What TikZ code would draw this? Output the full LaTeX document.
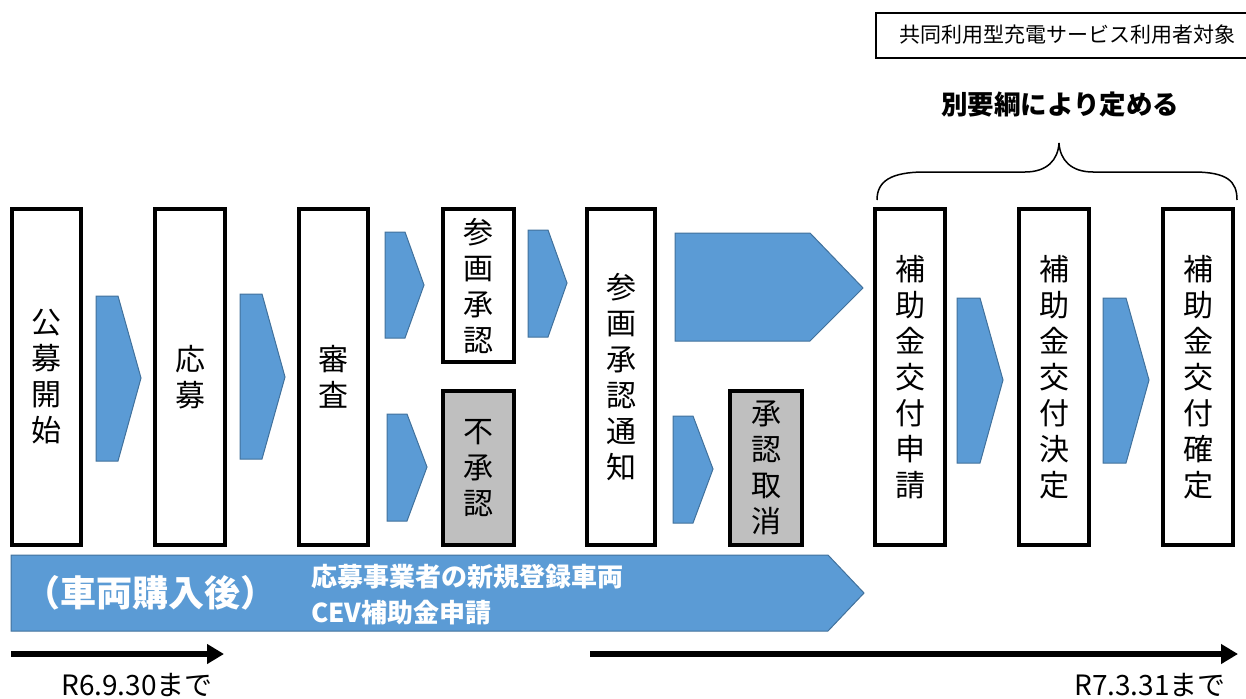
\documentclass[tikz,border=0pt]{standalone}
\usepackage{fontspec}
\setmainfont{Noto Sans CJK JP}
\usetikzlibrary{arrows.meta}
\definecolor{chevblue}{HTML}{5B9BD5}
\definecolor{chevedge}{HTML}{41719C}
\definecolor{boxgray}{HTML}{BFBFBF}
\tikzset{
  stepbox/.style={draw=black, line width=4pt, fill=white, inner sep=0pt, align=center,
    font=\fontsize{30}{36}\selectfont},
  graybox/.style={stepbox, fill=boxgray},
  chev/.style={fill=chevblue, draw=chevedge, line width=1pt},
  timearrow/.style={line width=6pt, -{Triangle[length=17pt,width=19pt]}},
  datelabel/.style={font=\fontsize{28}{32}\selectfont, inner sep=0pt},
}
\begin{document}
\begin{tikzpicture}[x=1pt,y=-1pt]
\useasboundingbox (0,0) rectangle (1246,698);
% top-right label box (open at the right page edge)
\draw[line width=1.5pt] (1247,13) -- (876,13) -- (876,58) -- (1247,58);
\node[inner sep=0pt, font=\fontsize{21}{24}\selectfont] (tgt) at (1067,35) {共同利用型充電サービス利用者対象};
\node[inner sep=0pt, font=\fontsize{26.5}{30}\selectfont\bfseries] (betsu) at (1060,105) {別要綱により定める};
% brace
\draw[line width=1.5pt] (877,200) .. controls (877,181) and (891,172) .. (925,172) -- (1025,172)
  .. controls (1047,172) and (1058,160) .. (1059,143)
  .. controls (1060,160) and (1071,172) .. (1093,172) -- (1193,172)
  .. controls (1227,172) and (1237,181) .. (1237,200);
% step boxes
\node[stepbox, minimum width=69pt, minimum height=336pt] (b1) at (46.5,377) {公\\募\\開\\始};
\node[stepbox, minimum width=70pt, minimum height=336pt] (b2) at (190,377) {応\\募};
\node[stepbox, minimum width=69pt, minimum height=336pt] (b3) at (333.5,377) {審\\査};
\node[stepbox, minimum width=71pt, minimum height=153pt] (b4) at (478.5,285.5) {参\\画\\承\\認};
\node[graybox, minimum width=71pt, minimum height=154pt] (b5) at (478.5,468) {不\\承\\認};
\node[stepbox, minimum width=68pt, minimum height=336pt] (b6) at (621,377) {参\\画\\承\\認\\通\\知};
\node[graybox, minimum width=72pt, minimum height=154pt] (b7) at (766,468) {承\\認\\取\\消};
\node[stepbox, minimum width=70pt, minimum height=336pt] (b8) at (910,377) {補\\助\\金\\交\\付\\申\\請};
\node[stepbox, minimum width=70pt, minimum height=336pt] (b9) at (1054,377) {補\\助\\金\\交\\付\\決\\定};
\node[stepbox, minimum width=70pt, minimum height=336pt] (b10) at (1198,377) {補\\助\\金\\交\\付\\確\\定};
% blue chevrons
\draw[chev] (96,296) -- (118,296) -- (141,378) -- (118,461) -- (96,461) -- cycle;
\draw[chev] (240,294) -- (262,294) -- (285,377) -- (262,459) -- (240,459) -- cycle;
\draw[chev] (385,232) -- (405,232) -- (424,285) -- (405,338) -- (385,338) -- cycle;
\draw[chev] (387,414) -- (407,414) -- (427,467) -- (407,521) -- (387,521) -- cycle;
\draw[chev] (528,230) -- (548,230) -- (567,283) -- (548,337) -- (528,337) -- cycle;
\draw[chev] (675,233) -- (810,233) -- (863,288) -- (810,341) -- (675,341) -- cycle;
\draw[chev] (673,416) -- (693,416) -- (713,469) -- (693,523) -- (673,523) -- cycle;
\draw[chev] (957,298) -- (980,298) -- (1003,380) -- (980,463) -- (957,463) -- cycle;
\draw[chev] (1103,298) -- (1126,298) -- (1149,380) -- (1126,463) -- (1103,463) -- cycle;
% banner
\draw[chev] (11,555) -- (828,555) -- (864,593) -- (828,631) -- (11,631) -- cycle;
\node[inner sep=0pt, text=white, font=\fontsize{36}{40}\selectfont\bfseries] (kounyu) at (150,593) {（車両購入後）};
\node[inner sep=0pt, anchor=west, align=left, text=white, font=\fontsize{26}{36}\selectfont\bfseries] (shinsei) at (311,595) {応募事業者の新規登録車両\\CEV補助金申請};
% time arrows
\coordinate (l1) at (11,654);
\coordinate (l2) at (224,654);
\coordinate (r1) at (590,654);
\coordinate (r2) at (1238,654);
\draw[timearrow] (l1) -- (l2);
\draw[timearrow] (r1) -- (r2);
\node[datelabel] (d1) at (137,685) {R6.9.30まで};
\node[datelabel] (d2) at (1150,685) {R7.3.31まで};
\end{tikzpicture}
\end{document}
